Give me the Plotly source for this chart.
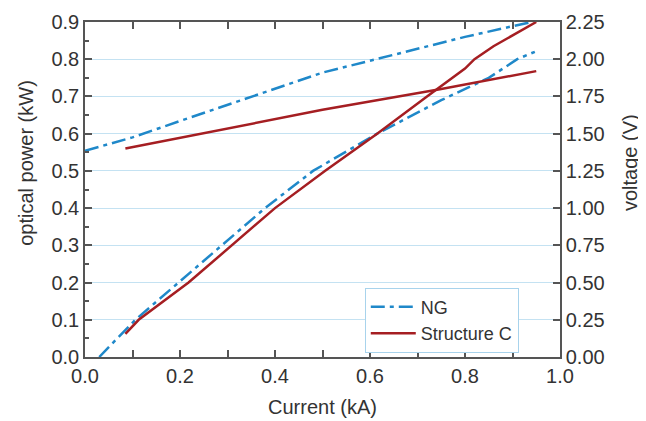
import plotly.graph_objects as go

# Optical power (kW) vs current (kA)
ng_power_x = [0.03, 0.106, 0.197, 0.288, 0.379, 0.48, 0.615, 0.75, 0.85, 0.91, 0.947]
ng_power_y = [0.0, 0.1, 0.2, 0.3, 0.4, 0.5, 0.6, 0.69, 0.75, 0.8, 0.82]
sc_power_x = [0.085, 0.113, 0.218, 0.31, 0.40, 0.505, 0.615, 0.72, 0.8, 0.82, 0.86, 0.95]
sc_power_y = [0.062, 0.1, 0.2, 0.3, 0.4, 0.5, 0.6, 0.7, 0.775, 0.8, 0.835, 0.9]

# Voltage (V) vs current (kA)
ng_volt_x = [0.0, 0.1, 0.2, 0.5, 0.8, 0.94]
ng_volt_y = [1.385, 1.475, 1.585, 1.91, 2.15, 2.25]
sc_volt_x = [0.085, 0.5, 0.75, 0.95]
sc_volt_y = [1.40, 1.66, 1.80, 1.92]

x_ticks = [0.0, 0.2, 0.4, 0.6, 0.8, 1.0]
y_ticks = [0.0, 0.1, 0.2, 0.3, 0.4, 0.5, 0.6, 0.7, 0.8, 0.9]
y2_ticks = [0.0, 0.25, 0.5, 0.75, 1.0, 1.25, 1.5, 1.75, 2.0, 2.25]

BLUE = "#1f88c9"
RED = "#a51e22"
AX = "#555555"
GRID = "#c4e2f2"
TXT = "#333333"
FONT = "Liberation Sans, Arial, sans-serif"
DASH = "14px,5px,4px,5px"

fig = go.Figure()
fig.add_trace(go.Scatter(x=ng_power_x, y=ng_power_y, mode="lines", name="NG",
                         line=dict(color=BLUE, width=2.5, dash=DASH)))
fig.add_trace(go.Scatter(x=sc_power_x, y=sc_power_y, mode="lines", name="Structure C",
                         line=dict(color=RED, width=2.5)))
fig.add_trace(go.Scatter(x=ng_volt_x, y=ng_volt_y, mode="lines", yaxis="y2", showlegend=False,
                         line=dict(color=BLUE, width=2.5, dash=DASH)))
fig.add_trace(go.Scatter(x=sc_volt_x, y=sc_volt_y, mode="lines", yaxis="y2", showlegend=False,
                         line=dict(color=RED, width=2.5)))

fig.update_layout(
    width=638, height=413,
    margin=dict(l=77, r=86, t=14, b=64, autoexpand=False),
    paper_bgcolor="white", plot_bgcolor="white",
    font=dict(family=FONT, size=20, color=TXT),
    xaxis=dict(range=[0, 1.0], tickvals=x_ticks, ticktext=[f"{v:.1f}" for v in x_ticks],
               ticks="inside", ticklen=7, tickwidth=1.5, tickcolor=AX,
               minor=dict(ticks="inside", ticklen=4, tickwidth=1.5, tickcolor=AX, dtick=0.1),
               showline=True, linecolor=AX, linewidth=1.5, mirror="allticks",
               showgrid=False, zeroline=False, tickfont=dict(size=20), automargin=False),
    yaxis=dict(range=[0, 0.9], tickvals=y_ticks, ticktext=[f"{v:.1f}" for v in y_ticks],
               ticks="inside", ticklen=7, tickwidth=1.5, tickcolor=AX,
               minor=dict(ticks="inside", ticklen=4, tickwidth=1.5, tickcolor=AX, dtick=0.05),
               showline=True, linecolor=AX, linewidth=1.5,
               showgrid=True, gridcolor=GRID, gridwidth=1.2, zeroline=False,
               tickfont=dict(size=20), automargin=False),
    yaxis2=dict(range=[0, 2.25], overlaying="y", side="right",
                tickvals=y2_ticks, ticktext=[f"{v:.2f}" for v in y2_ticks],
                ticks="inside", ticklen=7, tickwidth=1.5, tickcolor=AX,
                showline=True, linecolor=AX, linewidth=1.5,
                showgrid=False, zeroline=False, tickfont=dict(size=20), automargin=False),
    legend=dict(x=0.589, y=0.207, xanchor="left", yanchor="top",
                bgcolor="white", bordercolor="#a8d3ec", borderwidth=1,
                font=dict(size=18), tracegroupgap=0, itemwidth=45),
    showlegend=True,
    annotations=[
        dict(text="Current (kA)", xref="paper", yref="paper", x=0.499, y=-0.148,
             xanchor="center", yanchor="middle", showarrow=False, font=dict(size=20)),
        dict(text="optical power (kW)", xref="paper", yref="paper", x=-0.124, y=0.58,
             xanchor="center", yanchor="middle", textangle=-90, showarrow=False, font=dict(size=20)),
        dict(text="voltage (V)", xref="paper", yref="paper", x=1.146, y=0.58,
             xanchor="center", yanchor="middle", textangle=-90, showarrow=False, font=dict(size=20)),
    ],
)

fig.write_html("out.html")
